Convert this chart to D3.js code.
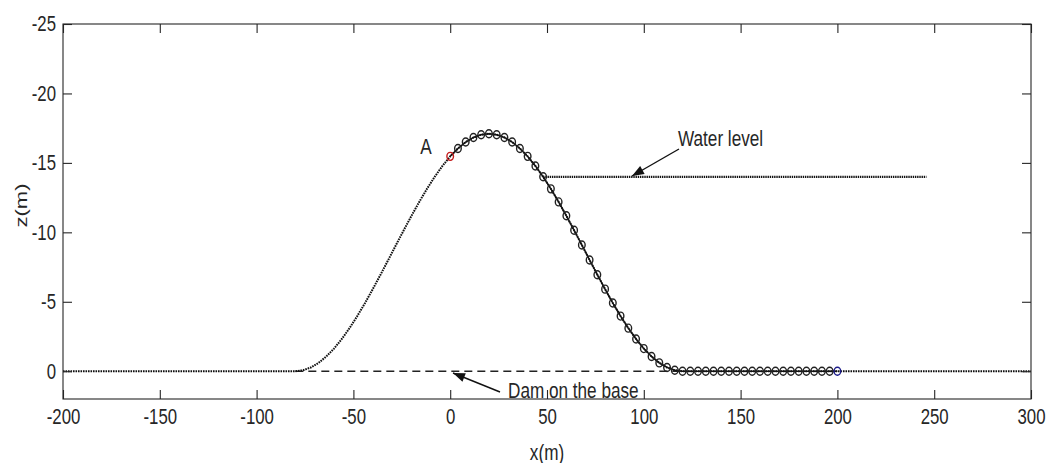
<!DOCTYPE html>
<html><head><meta charset="utf-8">
<script src="https://cdn.jsdelivr.net/npm/d3@7"></script>
<style>body{margin:0;background:#fff}svg{display:block}text{font-family:"Liberation Sans",Arial,sans-serif;fill:#262626}</style>
</head><body><svg id="c" width="1047" height="463"></svg>
<script>
// ---- data ----
const xTicks = [-200, -150, -100, -50, 0, 50, 100, 150, 200, 250, 300];
const zTicks = [-25, -20, -15, -10, -5, 0];
// dam profile (x in m, z in m; negative z is up)
const profileX = [-200, -80, -76, -72, -68, -64, -60, -56, -52, -48, -44, -40, -36, -32, -28, -24, -20, -16, -12, -8, -4,
  0, 4, 8, 12, 16, 20, 24, 28, 32, 36, 40, 44, 48, 52, 56, 60, 64, 68, 72, 76, 80, 84, 88, 92, 96, 100, 104, 108, 112, 116, 120, 300];
const profileZ = [0, 0, -0.07, -0.27, -0.60, -1.06, -1.63, -2.32, -3.10, -3.97, -4.91, -5.91, -6.95, -8.01, -9.09, -10.15, -11.19, -12.19, -13.13, -14.00, -14.78,
  -15.47, -16.04, -16.50, -16.83, -17.03, -17.10, -17.03, -16.83, -16.50, -16.04, -15.47, -14.78, -14.00, -13.13, -12.19, -11.19, -10.15, -9.09, -8.01, -6.95, -5.91, -4.91, -3.97, -3.10, -2.32, -1.63, -1.06, -0.60, -0.27, -0.07, 0, 0];
// nodes (circles) from A (x=0) to x=200
const nodeX = [0, 4, 8, 12, 16, 20, 24, 28, 32, 36, 40, 44, 48, 52, 56, 60, 64, 68, 72, 76, 80, 84, 88, 92, 96, 100,
  104, 108, 112, 116, 120, 124, 128, 132, 136, 140, 144, 148, 152, 156, 160, 164, 168, 172, 176, 180, 184, 188, 192, 196, 200];
const nodeZ = [-15.47, -16.04, -16.50, -16.83, -17.03, -17.10, -17.03, -16.83, -16.50, -16.04, -15.47, -14.78, -14.00, -13.13, -12.19, -11.19, -10.15, -9.09, -8.01, -6.95, -5.91, -4.91, -3.97, -3.10, -2.32, -1.63,
  -1.06, -0.60, -0.27, -0.07, 0, 0, 0, 0, 0, 0, 0, 0, 0, 0, 0, 0, 0, 0, 0, 0, 0, 0, 0, 0, 0];
const waterX = [48, 246];
const waterZ = [-14.0, -14.0];
const baseX = [-80, 120];
const baseZ = [0, 0];

// ---- layout ----
const svg = d3.select("#c");
const L = 63, R = 1031, T = 24, B = 399;
const x = d3.scaleLinear().domain([-200, 300]).range([L, R]);
const y = d3.scaleLinear().domain([-25, 2]).range([T, B]);
const SX = 0.78;
const axisCol = "#262626";
const fmt = d => String(d); // hyphen-minus like MATLAB

function txt(px, py, s, size, anchor, rot) {
  const sc = rot ? `scale(1,${SX})` : `scale(${SX},1)`;
  return svg.append("text")
    .attr("transform", `translate(${px},${py})` + (rot ? ` rotate(${rot})` : "") + ` ${sc}`)
    .attr("font-size", size).attr("text-anchor", anchor || "start").text(s);
}
function arrow(x1, y1, x2, y2) {
  svg.append("line").attr("x1", x1).attr("y1", y1).attr("x2", x2).attr("y2", y2)
    .attr("stroke", "#111").attr("stroke-width", 1.4);
  const a = Math.atan2(y2 - y1, x2 - x1), len = 12, w = 4.5;
  const bx = x2 - len * Math.cos(a), by = y2 - len * Math.sin(a);
  const px = -Math.sin(a) * w, py = Math.cos(a) * w;
  svg.append("path").attr("d", `M${x2},${y2}L${bx + px},${by + py}L${bx - px},${by - py}Z`).attr("fill", "#111");
}

// ---- marks ----
const line = d3.line().x(d => x(d[0])).y(d => y(d[1]));
svg.append("path").attr("d", line(d3.zip(baseX, baseZ))).attr("fill", "none")
  .attr("stroke", "#222").attr("stroke-width", 1.5).attr("stroke-dasharray", "8,5");
svg.append("path").attr("d", line(d3.zip(profileX, profileZ))).attr("fill", "none")
  .attr("stroke", "#111").attr("stroke-width", 2).attr("stroke-dasharray", "1.6,0.9");
svg.append("path").attr("d", line(d3.zip(waterX, waterZ))).attr("fill", "none")
  .attr("stroke", "#111").attr("stroke-width", 2.2).attr("stroke-dasharray", "1.4,0.8");
const nodes = d3.zip(nodeX, nodeZ);
svg.append("path").attr("d", line(nodes)).attr("fill", "none").attr("stroke", "#111").attr("stroke-width", 1.4);
svg.selectAll("ellipse.n").data(nodes).join("ellipse").attr("class", "n")
  .attr("cx", d => x(d[0])).attr("cy", d => y(d[1])).attr("rx", 3.3).attr("ry", 4)
  .attr("fill", "none").attr("stroke-width", 1.4)
  .attr("stroke", (d, i) => i === 0 ? "#c41a1a" : (i === nodes.length - 1 ? "#1c1c8a" : "#222"));

// ---- annotations ----
txt(426, 154, "A", 22, "middle");
txt(678, 146, "Water level", 22, "start");
arrow(679, 149, 632, 176);
txt(508, 398, "Dam on the base", 22, "start");
arrow(500, 392, 453, 373);

// ---- axes ----
function styleAxis(g) {
  g.selectAll("line").attr("stroke", axisCol).attr("stroke-width", 1.1);
  g.select(".domain").remove();
}
const gx = svg.append("g").attr("transform", `translate(0,${B})`)
  .call(d3.axisBottom(x).tickValues(xTicks).tickFormat(fmt).tickSizeInner(-9).tickSizeOuter(0).tickPadding(10));
styleAxis(gx);
gx.selectAll("text").attr("font-size", 21.5).attr("fill", axisCol).attr("font-family", null)
  .attr("transform", `scale(${SX},1)`);
const gxt = svg.append("g").attr("transform", `translate(0,${T})`)
  .call(d3.axisTop(x).tickValues(xTicks).tickSizeInner(-9).tickSizeOuter(0).tickFormat(""));
styleAxis(gxt);
const gy = svg.append("g").attr("transform", `translate(${L},0)`)
  .call(d3.axisLeft(y).tickValues(zTicks).tickFormat(fmt).tickSizeInner(-9).tickSizeOuter(0));
styleAxis(gy);
gy.selectAll("text").attr("font-size", 21.5).attr("fill", axisCol).attr("font-family", null)
  .attr("x", -7 / SX).attr("transform", `scale(${SX},1)`);
const gyr = svg.append("g").attr("transform", `translate(${R},0)`)
  .call(d3.axisRight(y).tickValues(zTicks).tickSizeInner(-9).tickSizeOuter(0).tickFormat(""));
styleAxis(gyr);
svg.append("rect").attr("x", L).attr("y", T).attr("width", R - L).attr("height", B - T)
  .attr("fill", "none").attr("stroke", axisCol).attr("stroke-width", 1.1);

txt((L + R) / 2, 460, "x(m)", 22, "middle");
txt(27, (T + B) / 2 - 6, "z(m)", 22, "middle", -90);
</script></body></html>
